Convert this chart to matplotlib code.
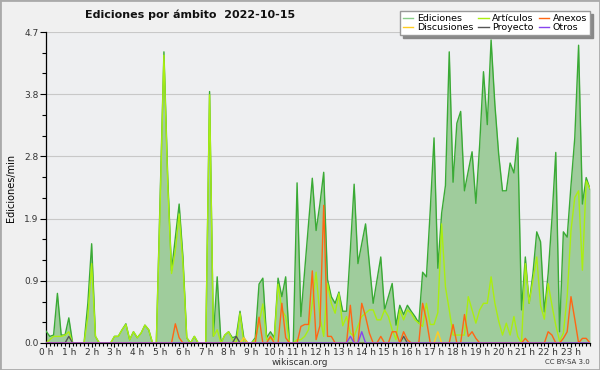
import numpy as np
import matplotlib.pyplot as plt
from matplotlib.lines import Line2D
from matplotlib.patches import Rectangle

# one value every 10 minutes, 6 per hour, 00:00 .. 23:50
ediciones = [
    0.18, 0.1, 0.12, 0.75, 0.12, 0.12,
    0.38, 0, 0, 0, 0, 0.6,
    1.5, 0.1, 0, 0, 0, 0,
    0.1, 0.1, 0.2, 0.29, 0.05, 0.17,
    0.08, 0.15, 0.27, 0.2, 0, 0,
    2.2, 4.4, 2.5, 1.09, 1.6, 2.1,
    1.3, 0.08, 0, 0.1, 0, 0,
    0, 3.8, 0.1, 1.0, 0, 0.12,
    0.17, 0.08, 0.1, 0.48, 0.08, 0,
    0, 0.08, 0.89, 0.98, 0.08, 0.17,
    0.08, 0.98, 0.7, 1.0, 0, 0,
    2.42, 0.4, 1.1, 1.8, 2.49, 1.7,
    2.1, 2.58, 0.96, 0.7, 0.6, 0.77,
    0.48, 0.48, 1.4, 2.4, 1.2, 1.5,
    1.8, 1.2, 0.6, 0.95, 1.3, 0.5,
    0.7, 0.9, 0.27, 0.57, 0.43, 0.57,
    0.48, 0.4, 0.3, 1.07, 1.0, 2.0,
    3.1, 1.13, 1.96, 2.38, 4.4, 2.43,
    3.32, 3.5, 2.3, 2.6, 2.89, 2.11,
    3.0, 4.1, 3.3, 4.58, 3.6, 2.85,
    2.3, 2.3, 2.72, 2.57, 3.1, 0.5,
    1.3, 0.6, 1.05, 1.68, 1.53, 0.47,
    1.05, 1.88, 2.88, 0.17, 1.68, 1.6,
    2.38, 3.1, 4.5, 2.1, 2.5, 2.33,
]

articulos = [
    0, 0.05, 0.1, 0.1, 0.1, 0.12,
    0.17, 0, 0, 0, 0, 0.4,
    1.2, 0.1, 0, 0, 0, 0,
    0.1, 0.1, 0.2, 0.28, 0.05, 0.17,
    0.08, 0.15, 0.27, 0.2, 0, 0,
    2.1, 4.35, 2.4, 1.05, 1.4, 1.95,
    1.2, 0.08, 0, 0.1, 0, 0,
    0, 3.75, 0.1, 0.2, 0, 0.12,
    0.17, 0.05, 0, 0.45, 0, 0,
    0, 0.05, 0.3, 0.59, 0.05, 0.07,
    0.05, 0.89, 0.5, 0.4, 0, 0,
    0.05, 0.05, 0.1, 0.2, 0.6, 1.07,
    0.4, 0.1, 0.9, 0.6, 0.45, 0.75,
    0.26, 0.4, 0.15, 0.1, 0.26, 0.4,
    0.45, 0.5, 0.5, 0.35, 0.35, 0.5,
    0.4, 0.2, 0.05, 0.5, 0.35, 0.5,
    0.45, 0.35, 0.3, 0.25, 0.6, 0.28,
    0.28, 0.46, 1.8, 0.85, 0.5, 0.12,
    0.12, 0.12, 0.12, 0.7, 0.5, 0.3,
    0.5, 0.6, 0.6, 1.0, 0.6, 0.33,
    0.12, 0.3, 0.12, 0.4, 0.1, 0,
    1.2, 0.6, 0.95, 1.3, 0.57, 0.36,
    0.9, 0.57, 0.27, 0.03, 0.15, 0.7,
    1.7, 2.2, 2.3, 1.1, 2.45, 2.33,
]

anexos = [
    0, 0, 0, 0, 0, 0,
    0, 0, 0, 0, 0, 0,
    0, 0, 0, 0, 0, 0,
    0, 0, 0, 0, 0, 0,
    0, 0, 0, 0, 0, 0,
    0, 0, 0, 0, 0.29, 0.08,
    0, 0, 0, 0, 0, 0,
    0, 0, 0, 0, 0, 0,
    0, 0, 0, 0, 0, 0,
    0, 0, 0.39, 0, 0, 0.1,
    0, 0, 0.6, 0.08, 0, 0,
    0, 0.25, 0.28, 0.28, 1.09, 0.05,
    0.26, 2.08, 0.1, 0.1, 0, 0,
    0, 0, 0.57, 0, 0, 0.6,
    0.4, 0.15, 0, 0, 0.1, 0,
    0, 0.17, 0.17, 0, 0.17, 0.05,
    0, 0, 0, 0.6, 0.35, 0,
    0, 0, 0, 0, 0, 0.28,
    0, 0, 0.43, 0.1, 0.17, 0.07,
    0, 0, 0, 0, 0, 0,
    0, 0, 0, 0, 0, 0,
    0.07, 0, 0, 0, 0, 0,
    0.17, 0.12, 0, 0, 0.07, 0.17,
    0.7, 0.36, 0, 0.07, 0.07, 0,
]

# sparse series: 10-minute slot -> value
discusiones_slots = [52, 103]
discusiones_vals = [0.08, 0.17]
proyecto_slots = [6, 50, 94]
proyecto_vals = [0.1, 0.1, 0.1]
otros_slots = [80, 83]
otros_vals = [0.1, 0.17]

hour_labels = [f"{h} h" for h in range(24)]
ymax = 4.7


def sparse(slots, vals, n):
    arr = np.zeros(n)
    arr[slots] = vals
    return arr


n = len(ediciones)
x = np.arange(n)
discusiones = sparse(discusiones_slots, discusiones_vals, n)
proyecto = sparse(proyecto_slots, proyecto_vals, n)
otros = sparse(otros_slots, otros_vals, n)

c_ed = '#3aaa35'
c_fill = '#9fcc9c'
c_art = '#aaee11'
c_anx = '#ff6614'
c_dis = '#ffcc22'
c_pro = '#555555'
c_otr = '#8844ee'

fig = plt.figure(figsize=(6, 3.7), dpi=100, facecolor='#f0f0f0')
ax = fig.add_axes([46 / 600, 1 - 343 / 370, 544 / 600, 311 / 370])
ax.set_facecolor('#eeeff1')

ax.fill_between(x, 0, ediciones, color=c_fill, lw=0, zorder=2)
ax.plot(x, ediciones, color=c_ed, lw=1.0, zorder=3)
ax.plot(x, articulos, color=c_art, lw=1.0, zorder=4)
ax.plot(x, discusiones, color=c_dis, lw=1.0, zorder=4)
ax.plot(x, proyecto, color=c_pro, lw=1.0, zorder=4)
ax.plot(x, anexos, color=c_anx, lw=1.0, zorder=5)
ax.plot(x, otros, color=c_otr, lw=1.0, zorder=5)

ax.set_xlim(0, n - 1)
ax.set_ylim(0, ymax)

yt = np.linspace(0, ymax, 6)
ax.set_yticks(yt)
ax.set_yticklabels([f"{v:.1f}" for v in yt])
ax.set_yticks(np.linspace(0, ymax, 16), minor=True)
ax.set_xticks(np.arange(0, n, 6))
ax.set_xticklabels(hour_labels)
ax.set_xticks(x, minor=True)
ax.tick_params(axis='y', which='major', direction='out', length=4,
               width=0.8, labelsize=6.5, labelcolor='#333333', pad=1.5)
ax.tick_params(axis='y', which='minor', direction='out', length=3, width=0.8)
ax.tick_params(axis='x', which='major', direction='out', length=3,
               width=0.8, labelsize=6.5, labelcolor='#333333', pad=0.5)
ax.tick_params(axis='x', which='minor', direction='out', length=2.5, width=0.8)
ax.yaxis.grid(True, color='#c8c8c8', lw=0.8, zorder=0)
ax.set_axisbelow(True)
for side in ('top', 'right'):
    ax.spines[side].set_visible(False)
for side in ('left', 'bottom'):
    ax.spines[side].set_linewidth(0.9)

ax.set_ylabel('Ediciones/min', fontsize=7)
ax.yaxis.set_label_coords(-0.055, 0.5)

fig.text(85 / 600, 1 - 15 / 370, 'Ediciones por ámbito  2022-10-15',
         fontsize=8, fontweight='bold', va='center', ha='left', color='#111111')
fig.text(300 / 600, 1 - 362.5 / 370, 'wikiscan.org', fontsize=6.5,
         ha='center', va='center', color='#333333')
fig.text(590 / 600, 1 - 362.5 / 370, 'CC BY-SA 3.0', fontsize=5,
         ha='right', va='center', color='#333333')

handles = [
    Line2D([], [], color='#88cc88', lw=1),
    Line2D([], [], color=c_dis, lw=1),
    Line2D([], [], color=c_art, lw=1),
    Line2D([], [], color=c_pro, lw=1),
    Line2D([], [], color=c_anx, lw=1),
    Line2D([], [], color=c_otr, lw=1),
]
labels = ['Ediciones', 'Discusiones', 'Artículos', 'Proyecto', 'Anexos', 'Otros']
leg = ax.legend(handles, labels, ncol=3, fontsize=6.8, loc='upper right',
                bbox_to_anchor=(590 / 600, 1 - 11 / 370), bbox_transform=fig.transFigure,
                handlelength=1.1, handletextpad=0.4, columnspacing=0.5,
                labelspacing=0.05, borderpad=0.3, borderaxespad=0,
                fancybox=False, framealpha=1, edgecolor='#999999',
                shadow={'color': '#888888', 'alpha': 1})
leg.set_zorder(10)

fig.patches.append(Rectangle((0, 0), 1, 1, transform=fig.transFigure,
                             fill=False, edgecolor='#aaaaaa', lw=2))

fig.savefig('out.png', dpi=100, facecolor=fig.get_facecolor())
